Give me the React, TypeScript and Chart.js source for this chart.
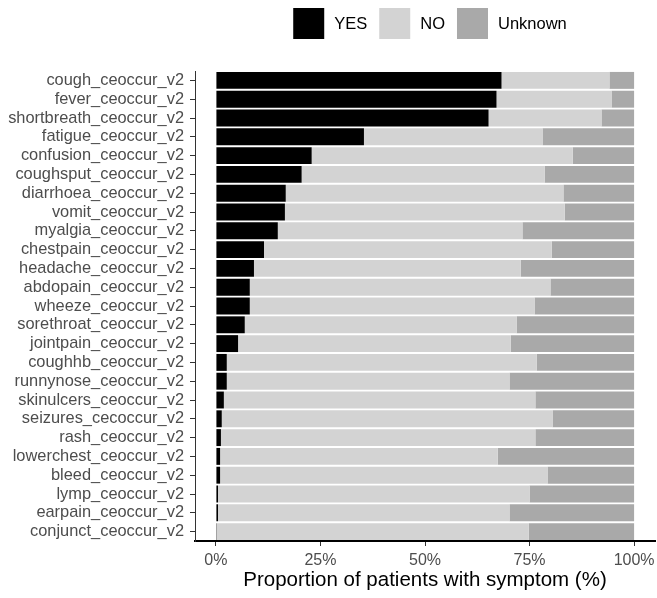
import React, { useEffect, useRef } from "react";
import { Chart, registerables } from "chart.js";

Chart.register(...registerables);

const categories = [
  "cough_ceoccur_v2",
  "fever_ceoccur_v2",
  "shortbreath_ceoccur_v2",
  "fatigue_ceoccur_v2",
  "confusion_ceoccur_v2",
  "coughsput_ceoccur_v2",
  "diarrhoea_ceoccur_v2",
  "vomit_ceoccur_v2",
  "myalgia_ceoccur_v2",
  "chestpain_ceoccur_v2",
  "headache_ceoccur_v2",
  "abdopain_ceoccur_v2",
  "wheeze_ceoccur_v2",
  "sorethroat_ceoccur_v2",
  "jointpain_ceoccur_v2",
  "coughhb_ceoccur_v2",
  "runnynose_ceoccur_v2",
  "skinulcers_ceoccur_v2",
  "seizures_cecoccur_v2",
  "rash_ceoccur_v2",
  "lowerchest_ceoccur_v2",
  "bleed_ceoccur_v2",
  "lymp_ceoccur_v2",
  "earpain_ceoccur_v2",
  "conjunct_ceoccur_v2",
];

const yesValues = [68.3, 67.1, 65.2, 35.4, 22.9, 20.5, 16.7, 16.5, 14.8, 11.5, 9.1, 8.1, 8.1, 6.9, 5.3, 2.6, 2.6, 1.9, 1.4, 1.2, 1.0, 1.0, 0.5, 0.5, 0.2];
const noValues = [25.8, 27.5, 27.0, 42.7, 62.4, 58.1, 66.4, 66.9, 58.5, 68.8, 63.8, 71.9, 68.1, 65.0, 65.2, 74.1, 67.6, 74.5, 79.1, 75.2, 66.4, 78.3, 74.5, 69.7, 74.6];
const unknownValues = [5.9, 5.4, 7.8, 21.9, 14.7, 21.4, 16.9, 16.6, 26.7, 19.7, 27.1, 20.0, 23.8, 28.1, 29.5, 23.3, 29.8, 23.6, 19.5, 23.6, 32.6, 20.7, 25.0, 29.8, 25.2];

const xTicks = [0, 25, 50, 75, 100];

const FONT = "'Liberation Sans', Arial, Helvetica, sans-serif";

const legendPlugin = {
  id: "customLegend",
  afterDraw(chart: any) {
    const ctx = chart.ctx;
    const items = chart.data.datasets.map((d: any) => ({ label: d.label, color: d.backgroundColor }));
    const box = 31;
    const textGap = 10;
    const itemGap = 12;
    ctx.save();
    ctx.font = `16.5px ${FONT}`;
    const widths = items.map((it: any) => box + textGap + ctx.measureText(it.label).width);
    const total = widths.reduce((a: number, b: number) => a + b, 0) + itemGap * (items.length - 1);
    let x = 430 - total / 2;
    const yc = 23.5;
    items.forEach((it: any, i: number) => {
      ctx.fillStyle = it.color;
      ctx.fillRect(x, yc - box / 2, box, box);
      ctx.fillStyle = "#000";
      ctx.textBaseline = "middle";
      ctx.textAlign = "left";
      ctx.fillText(it.label, x + box + textGap, yc + 1);
      x += widths[i] + itemGap;
    });
    ctx.restore();
  },
};

export default function App() {
  const ref = useRef<HTMLCanvasElement | null>(null);
  useEffect(() => {
    if (!ref.current) return;
    const chart = new Chart(ref.current, {
      type: "bar",
      data: {
        labels: categories,
        datasets: [
          { label: "YES", data: yesValues, backgroundColor: "#000000" },
          { label: "NO", data: noValues, backgroundColor: "#d3d3d3" },
          { label: "Unknown", data: unknownValues, backgroundColor: "#a9a9a9" },
        ],
      },
      options: {
        indexAxis: "y",
        responsive: false,
        animation: false,
        layout: { padding: { top: 71, right: 2, left: 0, bottom: 0 } },
        datasets: { bar: { barPercentage: 0.9, categoryPercentage: 1.0, borderWidth: 0 } },
        plugins: { legend: { display: false }, tooltip: { enabled: false } },
        scales: {
          x: {
            type: "linear",
            stacked: true,
            min: -5,
            max: 105,
            afterBuildTicks: (axis: any) => {
              axis.ticks = xTicks.map((v) => ({ value: v }));
            },
            afterFit: (scale: any) => {
              scale.height = 57;
              scale.paddingLeft = 0;
              scale.paddingRight = 0;
            },
            ticks: {
              callback: (v: any) => `${v}%`,
              font: { family: FONT, size: 16 },
              color: "#4d4d4d",
              padding: 5,
              maxRotation: 0,
              autoSkip: false,
            },
            grid: { drawOnChartArea: false, drawTicks: true, tickLength: 5, color: "#333333", lineWidth: 1 },
            border: { display: true, color: "#000000", width: 2 },
            title: {
              display: true,
              text: "Proportion of patients with symptom (%)",
              font: { family: FONT, size: 20.5 },
              color: "#000000",
              padding: { top: 0, bottom: 5 },
            },
          },
          y: {
            type: "category",
            stacked: true,
            offset: true,
            afterFit: (scale: any) => {
              scale.width = 195;
              scale.paddingTop = 0;
              scale.paddingBottom = 0;
            },
            ticks: {
              font: { family: FONT, size: 16.4 },
              color: "#4d4d4d",
              padding: 6,
              autoSkip: false,
            },
            grid: { drawOnChartArea: false, drawTicks: true, tickLength: 5, color: "#333333", lineWidth: 1, offset: false },
            border: { display: true, color: "#333333", width: 1 },
          },
        },
      },
      plugins: [legendPlugin],
    });
    return () => chart.destroy();
  }, []);
  return (
    <div style={{ position: "absolute", left: 0, top: 0, width: 657, height: 598, background: "#fff" }}>
      <canvas ref={ref} width={657} height={598} style={{ display: "block" }} />
    </div>
  );
}
